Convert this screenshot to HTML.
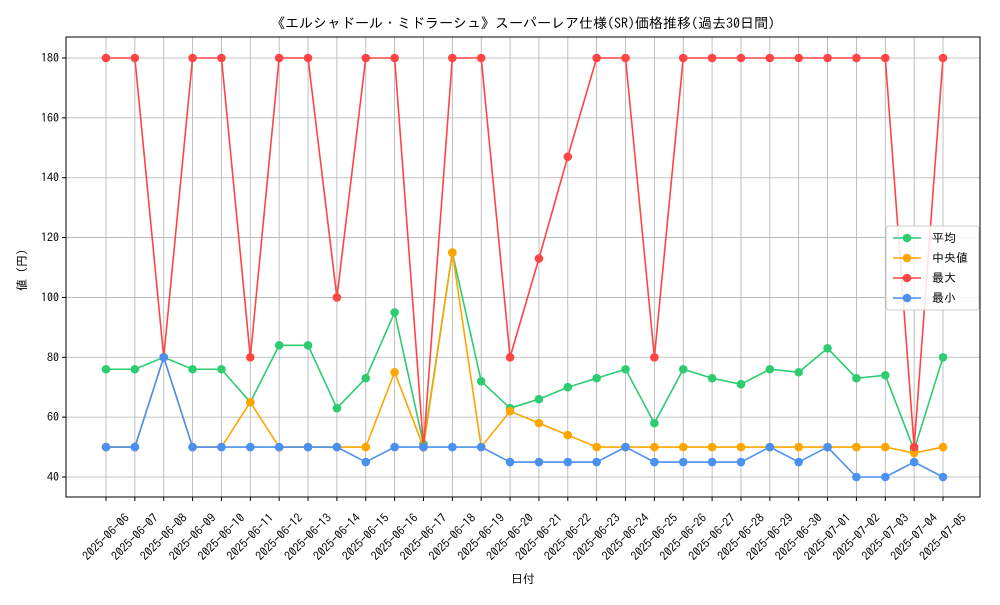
<!DOCTYPE html>
<html><head><meta charset="utf-8"><style>
body{margin:0;background:#fff;}
svg text{font-family:"IPAGothic","Noto Sans CJK JP",sans-serif;fill:#000;}
</style></head><body>
<svg id="chart" width="1000" height="600" xmlns="http://www.w3.org/2000/svg">
<rect width="1000" height="600" fill="#fff"/>
<text x="523" y="28" text-anchor="middle" font-size="14">《エルシャドール・ミドラーシュ》スーパーレア仕様(SR)価格推移(過去30日間)</text>
<text x="523" y="583" text-anchor="middle" font-size="12">日付</text>
<text transform="translate(26,267) rotate(-90)" text-anchor="middle" font-size="12">値（円）</text>
<g id="grid"></g><g id="axes"></g><g id="series"></g>
<g id="legend"></g>
</svg>
<script>
const dates=["2025-06-06","2025-06-07","2025-06-08","2025-06-09","2025-06-10","2025-06-11","2025-06-12","2025-06-13","2025-06-14","2025-06-15","2025-06-16","2025-06-17","2025-06-18","2025-06-19","2025-06-20","2025-06-21","2025-06-22","2025-06-23","2025-06-24","2025-06-25","2025-06-26","2025-06-27","2025-06-28","2025-06-29","2025-06-30","2025-07-01","2025-07-02","2025-07-03","2025-07-04","2025-07-05"];
const avgVals=[76,76,80,76,76,65,84,84,63,73,95,51,115,72,63,66,70,73,76,58,76,73,71,76,75,83,73,74,49,80];
const medVals=[50,50,80,50,50,65,50,50,50,50,75,50,115,50,62,58,54,50,50,50,50,50,50,50,50,50,50,50,48,50];
const maxVals=[180,180,80,180,180,80,180,180,100,180,180,50,180,180,80,113,147,180,180,80,180,180,180,180,180,180,180,180,50,180];
const minVals=[50,50,80,50,50,50,50,50,50,45,50,50,50,50,45,45,45,45,50,45,45,45,45,50,45,50,40,40,45,40];
const yTicks=[40,60,80,100,120,140,160,180];
const seriesNames=["平均","中央値","最大","最小"];
const NS="http://www.w3.org/2000/svg";
const L=66,R=980,T=37,B=497;
const x=i=>106+i*(943-106)/(dates.length-1);
const y=v=>477-(v-40)*(477-58)/140;
function mk(tag,attrs,parent){const e=document.createElementNS(NS,tag);for(const k in attrs)e.setAttribute(k,attrs[k]);parent.appendChild(e);return e;}
const grid=document.getElementById('grid'),axes=document.getElementById('axes'),ser=document.getElementById('series'),leg=document.getElementById('legend');
dates.forEach((d,i)=>{
 const g=mk('line',{x1:x(i),x2:x(i),y1:T,y2:B,stroke:'#b0b0b0','stroke-width':0.8},grid);
 
 
 mk('line',{x1:x(i),x2:x(i),y1:B,y2:B+4,stroke:'#000'},axes);
 const cx=x(i),cy=537;
 const t=mk('text',{x:cx,y:cy+4,'text-anchor':'middle','font-size':12,transform:`rotate(-45 ${cx} ${cy})`},axes);
 t.textContent=d;
 
 
});
yTicks.forEach(v=>{
 const g=mk('line',{x1:L,x2:R,y1:y(v),y2:y(v),stroke:'#b0b0b0','stroke-width':0.8},grid);
 
 
 mk('line',{x1:L-4,x2:L,y1:y(v),y2:y(v),stroke:'#000'},axes);
 const t=mk('text',{x:L-7,y:y(v)+4,'text-anchor':'end','font-size':12},axes);
 t.textContent=v;
 
 
});
const frame=mk('rect',{x:L,y:T,width:R-L,height:B-T,fill:'none',stroke:'#000','stroke-width':1},axes);


const all=[[avgVals,'#2ecc71','avg-series'],[medVals,'#ffa500','median-series'],[maxVals,'#ff4444','max-series'],[minVals,'#4a90f0','min-series']];
all.forEach(([vals,c,name])=>{
 const g=mk('g',{},ser);
 
 
 const p=mk('polyline',{points:vals.map((v,i)=>x(i)+','+y(v)).join(' '),fill:'none',stroke:c,'stroke-width':1.6},g);
 
 
 vals.forEach((v,i)=>{
  const m=mk('circle',{cx:x(i),cy:y(v),r:4.3,fill:c},g);
  
  
 });
});
mk('rect',{x:886,y:226,width:93,height:84,fill:'#fff','fill-opacity':0.85,stroke:'#ccc',rx:3},leg);
all.forEach(([v,c,name],k)=>{
 const yy=238+k*20;
 const e=mk('g',{},leg);
 
 
 mk('line',{x1:893,x2:921,y1:yy,y2:yy,stroke:c,'stroke-width':1.6},e);
 mk('circle',{cx:907,cy:yy,r:4.3,fill:c},e);
 const t=mk('text',{x:932,y:yy+4,'font-size':12},e);
 t.textContent=seriesNames[k];
});
</script>
</body></html>
